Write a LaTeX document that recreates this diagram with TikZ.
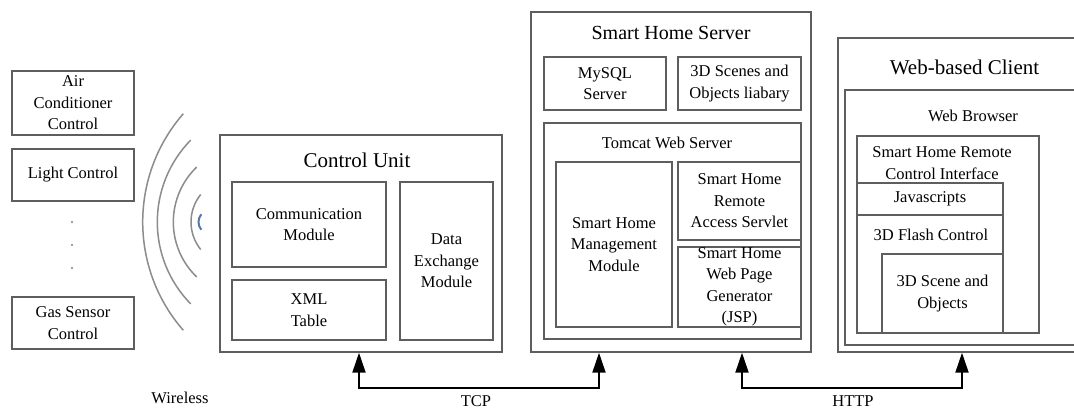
\documentclass[tikz,border=0pt]{standalone}
\usepackage{fontspec}
\setmainfont{Liberation Serif}
\usetikzlibrary{arrows.meta}
\definecolor{boxline}{HTML}{5E5E5E}
\definecolor{wave}{HTML}{8C8C8C}
\definecolor{wavecore}{HTML}{5577BB}
\tikzset{
  body/.style={font=\fontsize{16.5}{21.5}\selectfont},
  headline/.style={font=\fontsize{21}{25}\selectfont, inner sep=0pt},
  blk/.style={draw=boxline, line width=1.4pt, inner sep=0pt, align=center, body},
  dlink/.style={draw=black, line width=2pt,
    {Triangle[length=20pt,width=13pt]}-{Triangle[length=20pt,width=13pt]}},
  radiowave/.style={draw=wave, line width=1.5pt},
  dotmark/.style={circle, fill=gray, inner sep=0pt, minimum size=2.2pt},
}
\begin{document}
\begin{tikzpicture}[x=1pt,y=-1pt]
\useasboundingbox (0,0) rectangle (1074,410);
\fill[white] (0,0) rectangle (1074,410);
\clip (0,0) rectangle (1074,410);

% ---- devices on the left ----
\node[blk, minimum width=122pt, minimum height=64pt] (air) at (73,103) {Air\\Conditioner\\Control};
\node[blk, minimum width=122pt, minimum height=52pt] (light) at (73,175) {Light Control};
\node[blk, minimum width=122pt, minimum height=52pt] (gas) at (73,323) {Gas Sensor\\Control};
\node[dotmark] (d1) at (72,222) {};
\node[dotmark] (d2) at (72,245) {};
\node[dotmark] (d3) at (72,268) {};

% ---- radio waves ----
\draw[radiowave] (307.4,222) ++(138.9:164.7) arc[start angle=138.9, end angle=221.1, radius=164.7];
\draw[radiowave] (274.4,222) ++(135.6:117.1) arc[start angle=135.6, end angle=224.4, radius=117.1];
\draw[radiowave] (249.6,222) ++(133.9:76.3) arc[start angle=133.9, end angle=226.1, radius=76.3];
\draw[radiowave] (234.8,222) ++(141.1:43.8) arc[start angle=141.1, end angle=218.9, radius=43.8];
\draw[draw=wavecore, line width=2pt] (210.5,222) ++(140:12) arc[start angle=140, end angle=220, radius=12];
\node[body] (wl) at (180,398) {Wireless};

% ---- control unit ----
\node[blk, minimum width=282pt, minimum height=217pt] (cu) at (361,243.5) {};
\node[headline] (cut) at (357,160) {Control Unit};
\node[blk, minimum width=154pt, minimum height=85pt] (comm) at (309,224.5) {Communication\\Module};
\node[blk, minimum width=154pt, minimum height=60pt] (xml) at (309,310) {XML\\Table};
\node[blk, minimum width=93pt, minimum height=158pt] (dex) at (446.5,261) {Data\\Exchange\\Module};

% ---- smart home server ----
\node[blk, minimum width=280pt, minimum height=340pt] (srv) at (671,182) {};
\node[headline, font=\fontsize{20}{24}\selectfont] (srvt) at (671,33) {Smart Home Server};
\node[blk, minimum width=122pt, minimum height=53pt] (mysql) at (605,83.5) {MySQL\\Server};
\node[blk, minimum width=123pt, minimum height=53pt] (lib) at (739.5,83.5) {3D Scenes and\\Objects liabary};
\node[blk, minimum width=257pt, minimum height=216pt] (tomcat) at (672.5,231) {};
\node[body, inner sep=0pt] (tomt) at (667,143) {Tomcat Web Server};
\node[blk, minimum width=116pt, minimum height=165pt] (mgmt) at (614,244.5) {Smart Home\\Management\\Module};
\node[blk, minimum width=123pt, minimum height=78pt] (servlet) at (739.5,201) {Smart Home\\Remote\\Access Servlet};
\node[blk, minimum width=123pt, minimum height=80pt] (jsp) at (739.5,287) {Smart Home\\Web Page\\Generator\\(JSP)};

% ---- web-based client ----
\node[blk, minimum width=246pt, minimum height=314pt] (client) at (961,195) {};
\node[headline] (clt) at (964.5,67) {Web-based Client};
\node[blk, minimum width=239pt, minimum height=255pt] (browser) at (964.5,217.5) {};
\node[body, inner sep=0pt] (brt) at (973,116) {Web Browser};
\node[blk, minimum width=182pt, minimum height=197pt] (intf) at (948,234.5) {};
\node[body, inner sep=0pt, align=center] (intft) at (942,163) {Smart Home Remote\\Control Interface};
\node[blk, minimum width=146pt, minimum height=32pt] (js) at (930,199) {Javascripts};
\node[blk, minimum width=146pt, minimum height=118pt] (flash) at (930,274) {};
\node[body, inner sep=0pt] (flasht) at (931,235) {3D Flash Control};
\node[blk, minimum width=121pt, minimum height=79pt] (scene) at (942.5,293.5) {3D Scene and\\Objects};

% ---- links ----
\coordinate (tcpL) at (359,388);
\coordinate (tcpR) at (599,388);
\coordinate (httpL) at (742,388);
\coordinate (httpR) at (962,388);
\draw[dlink] (tcpL |- cu.south) -- (tcpL) -- (tcpR) -- (tcpR |- srv.south);
\draw[dlink] (httpL |- srv.south) -- (httpL) -- (httpR) -- (httpR |- client.south);
\node[body] (tcp) at (476,401) {TCP};
\node[body] (http) at (853,401) {HTTP};
\end{tikzpicture}
\end{document}
